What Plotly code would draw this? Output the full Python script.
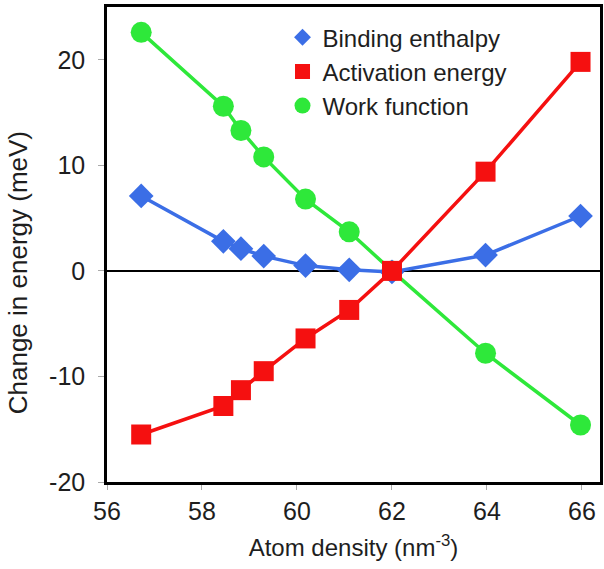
import plotly.graph_objects as go

density = [56.72, 58.45, 58.82, 59.3, 60.18, 61.1, 62.0, 63.97, 65.97]
binding = [7.1, 2.8, 2.1, 1.4, 0.5, 0.1, -0.1, 1.5, 5.2]
activation = [-15.5, -12.8, -11.3, -9.5, -6.4, -3.7, 0.0, 9.4, 19.8]
work = [22.6, 15.6, 13.3, 10.8, 6.8, 3.7, 0.0, -7.8, -14.6]

names = ["Binding enthalpy", "Activation energy", "Work function"]
colors = ["#3b6ee6", "#f51010", "#2ee83a"]
symbols = ["diamond", "square", "circle"]
sizes = [19, 20, 21]
legend_sizes = [13, 15, 16]
series = [binding, activation, work]

x_ticks = [56, 58, 60, 62, 64, 66]
y_ticks = [-20, -10, 0, 10, 20]
y_tick_labels = ["-20", "-10", "0", "10", "20"]
x_title = "Atom density (nm<sup>-3</sup>)"
y_title = "Change in energy (meV)"

FONT = "Liberation Sans, Arial, Helvetica, sans-serif"

fig = go.Figure()

fig.add_hline(y=0, line=dict(color="black", width=2), layer="below")

for i in [2, 0, 1]:
    fig.add_trace(go.Scatter(
        x=density, y=series[i], mode="lines+markers",
        line=dict(color=colors[i], width=3.5),
        marker=dict(symbol=symbols[i], size=sizes[i], color=colors[i]),
        showlegend=False, name=names[i],
    ))

for i in range(3):
    fig.add_trace(go.Scatter(
        x=[None], y=[None], mode="markers", name=names[i],
        marker=dict(symbol=symbols[i], size=legend_sizes[i], color=colors[i]),
    ))

fig.add_annotation(
    text=y_title, textangle=-90, xref="paper", yref="paper",
    x=-0.18, y=0.44, xanchor="center", yanchor="middle", showarrow=False,
    font=dict(size=26, family=FONT, color="#1e1e1e"),
)

fig.update_layout(
    width=604, height=569,
    margin=dict(l=107, r=1, t=7, b=87),
    paper_bgcolor="white", plot_bgcolor="white",
    font=dict(family=FONT, size=24, color="#1e1e1e"),
    showlegend=True,
    legend=dict(x=0.356, y=0.983, xanchor="left", yanchor="top",
                bgcolor="rgba(0,0,0,0)", font=dict(size=24, family=FONT),
                itemwidth=30, tracegroupgap=0),
    xaxis=dict(range=[56, 66.38], tickvals=x_ticks, showgrid=False, zeroline=False,
               showline=True, mirror=True, linecolor="black", linewidth=2.5,
               ticks="outside", ticklen=5, tickcolor="#aaaaaa",
               ticklabelstandoff=0,
               title=dict(text=x_title, font=dict(size=24), standoff=16),
               tickfont=dict(size=25)),
    yaxis=dict(range=[-20, 25], tickvals=y_ticks, ticktext=y_tick_labels,
               showgrid=False, zeroline=False,
               showline=True, mirror=True, linecolor="black", linewidth=2.5,
               ticks="outside", ticklen=6, tickcolor="#aaaaaa",
               ticklabelstandoff=8,
               tickfont=dict(size=25)),
)

fig.write_html("out.html", config={"displayModeBar": False},
               post_script="document.body.style.margin='0px';")
